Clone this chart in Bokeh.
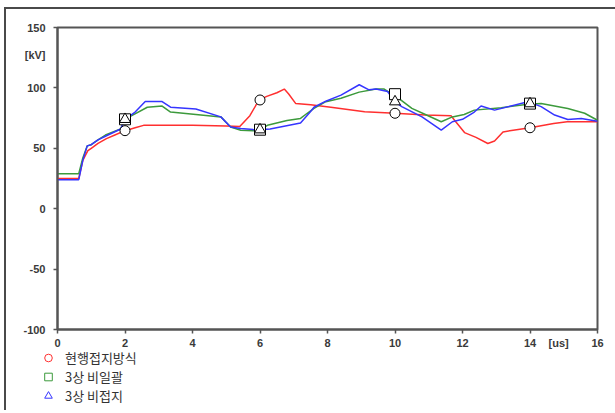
from bokeh.plotting import figure
from bokeh.layouts import column
from bokeh.models import Range1d, FixedTicker, Legend, LegendItem
from bokeh.embed import file_html
from bokeh.resources import INLINE

# ---- data ----
red_t = [0, 0.63, 0.75, 0.9, 1.0, 1.2, 1.45, 1.7, 2.0, 2.3, 2.55, 3.0, 4.0, 5.0, 5.4, 5.7, 5.97, 6.2, 6.5, 6.72, 6.85, 7.06, 7.5, 8.1, 9.1, 10.0, 10.9, 11.66, 11.8, 12.06, 12.4, 12.75, 12.95, 13.2, 13.5, 14.0, 14.7, 15.1, 16.0]
red_v = [25, 25, 40, 48, 50, 54, 58, 61, 64.6, 67, 69, 69, 69, 68.5, 68, 77, 90, 93, 96, 99, 95, 87, 86, 84, 80.3, 79, 77.5, 77, 72, 63, 59, 54, 56, 63.5, 65, 67, 70.5, 72, 72]

green_t = [0, 0.63, 0.75, 0.88, 1.0, 1.2, 1.42, 1.87, 2.0, 2.2, 2.66, 3.1, 3.35, 4.1, 4.84, 5.13, 5.43, 5.8, 6.0, 6.22, 6.8, 7.2, 7.4, 7.6, 7.95, 8.4, 8.94, 9.44, 9.68, 10.08, 10.5, 10.9, 11.37, 11.7, 12.05, 12.35, 13.15, 13.94, 14.33, 15.12, 15.62, 16.0]
green_v = [29, 29, 42, 52, 53, 57, 61, 66, 74, 77, 84, 85, 80, 78, 76, 67.7, 65, 64.5, 65.4, 69, 73, 74.7, 79, 83, 88.6, 91.4, 96.5, 99, 99, 92, 83, 78, 72, 76, 78, 81.6, 83.6, 86.4, 87, 83, 79, 73.2]

blue_t = [0, 0.63, 0.75, 0.88, 1.0, 1.2, 1.42, 1.87, 2.0, 2.3, 2.6, 3.1, 3.35, 4.1, 4.84, 5.13, 5.43, 5.8, 6.0, 6.3, 7.2, 7.5, 7.6, 7.95, 8.4, 8.94, 9.23, 9.44, 9.78, 10.0, 10.2, 10.8, 11.37, 11.7, 12.0, 12.35, 12.55, 12.95, 13.94, 14.33, 14.73, 15.12, 15.52, 16.0]
blue_v = [24, 24, 40, 52, 53, 57, 60, 66, 74, 80, 88.7, 88.7, 84, 82.5, 76, 67.7, 66.3, 65.5, 65.4, 66, 71, 80.5, 84, 89, 94, 102.6, 98.4, 99, 97, 88.6, 84.5, 76, 65, 72, 74, 80, 85, 81.6, 88.6, 84.5, 77.5, 73.8, 74.7, 72.4]

marker_t = [2, 6, 10, 14]
red_marker_v = [64.6, 90, 79, 67]
green_marker_v = [74, 65.4, 94.8, 87]
blue_marker_v = [74, 65.4, 88.6, 87]

series_names = ["현행접지방식", "3상 비일괄", "3상 비접지"]
x_ticks = [0, 2, 4, 6, 8, 10, 12, 14, 16]
y_ticks = [-100, -50, 0, 50, 100, 150]
x_unit, x_unit_pos = "[us]", 14.85
y_unit, y_unit_pos = "[kV]", 127

RED, GREEN, BLUE = "#ff2f2f", "#3c9a3c", "#3535ff"
FRAME = "2px solid #4a4a4a"

p = figure(frame_width=538, frame_height=300, output_backend="svg", toolbar_location=None,
           x_range=Range1d(0, 16), y_range=Range1d(-100, 150),
           min_border_left=51, min_border_top=18, min_border_right=20, min_border_bottom=0)
p.styles = {"border-top": FRAME, "border-left": FRAME, "margin-top": "7px", "margin-left": "4px"}
p.grid.visible = False
p.outline_line_color = "#555555"
p.outline_line_width = 2
p.background_fill_color = "white"
p.border_fill_color = "white"

for ax in (p.xaxis[0], p.yaxis[0]):
    ax.axis_line_color = "#555555"
    ax.axis_line_width = 2
    ax.major_tick_line_color = None
    ax.minor_tick_line_color = "#555555"
    ax.minor_tick_line_width = 1.5
    ax.minor_tick_out = 4
    ax.minor_tick_in = 0
    ax.major_label_text_font = "Liberation Sans"
    ax.major_label_text_font_size = "11px"
    ax.major_label_text_font_style = "bold"
    ax.major_label_text_color = "#3a3a3a"
p.xaxis.ticker = FixedTicker(ticks=x_ticks + [x_unit_pos], minor_ticks=x_ticks)
p.yaxis.ticker = FixedTicker(ticks=y_ticks + [y_unit_pos], minor_ticks=y_ticks)
p.xaxis.major_label_overrides = {x_unit_pos: x_unit}
y_over = {t: str(t) for t in y_ticks}
y_over[y_unit_pos] = y_unit
p.yaxis.major_label_overrides = y_over
p.xaxis.major_label_standoff = 1
p.yaxis.major_label_standoff = 6

# lines
p.line(red_t, red_v, line_color=RED, line_width=1.5)
p.line(green_t, green_v, line_color=GREEN, line_width=1.5)
p.line(blue_t, blue_v, line_color=BLUE, line_width=1.5)

# black markers
p.scatter(marker_t, red_marker_v, marker="circle", size=10, fill_color="white", line_color="black", line_width=1)
p.scatter(marker_t, green_marker_v, marker="square", size=11, fill_color="white", line_color="black", line_width=1)
p.scatter(marker_t, blue_marker_v, marker="triangle", size=11, fill_color="white", line_color="black", line_width=1)

# ---- legend strip below the chart ----
LEG_H = 62
p2 = figure(frame_width=300, frame_height=LEG_H, output_backend="svg", toolbar_location=None,
            x_range=Range1d(100, 101), y_range=Range1d(1000, 1001),
            x_axis_location=None, y_axis_location=None,
            min_border=0, outline_line_color=None,
            background_fill_alpha=0, border_fill_alpha=0)
p2.styles = {"border-left": FRAME, "margin-left": "4px", "margin-top": "-1px"}
p2.grid.visible = False
# legend proxies (their points lie outside this strip's ranges)
rc = p2.scatter(marker_t, red_marker_v, marker="circle", fill_color=None, line_color=RED, line_width=1)
rs = p2.scatter(marker_t, green_marker_v, marker="square", fill_color=None, line_color=GREEN, line_width=1)
rt = p2.scatter(marker_t, blue_marker_v, marker="triangle", fill_color=None, line_color=BLUE, line_width=1)

legend = Legend(items=[LegendItem(label=series_names[0], renderers=[rc]),
                       LegendItem(label=series_names[1], renderers=[rs]),
                       LegendItem(label=series_names[2], renderers=[rt])],
                location=(31, LEG_H - 57), orientation="vertical",
                glyph_width=22, glyph_height=19, spacing=0, padding=0, margin=0,
                label_standoff=6, label_text_font="Noto Sans CJK KR",
                label_text_font_size="13px", label_text_color="#333333",
                border_line_color=None, background_fill_alpha=0)
p2.add_layout(legend, "center")

open("out.html", "w").write(file_html(column(p, p2, spacing=0), INLINE))
